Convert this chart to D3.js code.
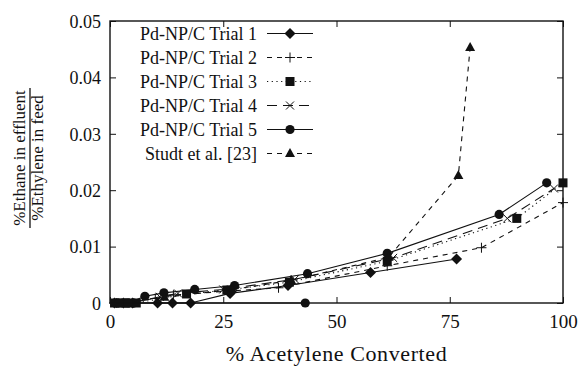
<!DOCTYPE html>
<html>
<head>
<meta charset="utf-8">
<script src="https://cdn.jsdelivr.net/npm/d3@7"></script>
<style>
  body { margin: 0; background: #fff; }
</style>
</head>
<body>
<script>
// data: [% acetylene converted, ethane/ethylene ratio]
var trial1 = [[1, 0], [3, 0], [5, 0], [10.5, 0], [13.8, 0], [17.8, 0], [26.5, 0.0017], [39.3, 0.0031], [57.5, 0.0054], [76.5, 0.0078]];
var trial2 = [[1.5, 0], [3.5, 0], [10, 0.0008], [14, 0.0014], [26, 0.0021], [37.2, 0.0027], [61.2, 0.0066], [82, 0.0098], [100, 0.0178]];
var trial3 = [[1, 0], [2.2, 0], [3.4, 0], [4.6, 0], [5.8, 0], [16.9, 0.0016], [25.8, 0.0023], [39.6, 0.0037], [61.2, 0.0074], [89.8, 0.0150], [100, 0.0213]];
var trial4 = [[2, 0], [4.5, 0], [11, 0.0011], [15, 0.0017], [25, 0.0024], [40.8, 0.0042], [62.5, 0.0080], [87.7, 0.0150], [98, 0.0203]];
var trial5 = [[43.1, 0], [2, 0], [4, 0], [7.7, 0.0012], [11.9, 0.0018], [18.7, 0.0024], [27.5, 0.0031], [43.6, 0.0052], [61.2, 0.0088], [85.9, 0.0157], [96.4, 0.0213]];
var studt = [[12, 0.0010], [27, 0.0024], [40, 0.0040], [61.5, 0.0081], [76.9, 0.0226], [79.5, 0.0453]];

var seriesNames = ["Pd-NP/C Trial 1", "Pd-NP/C Trial 2", "Pd-NP/C Trial 3", "Pd-NP/C Trial 4", "Pd-NP/C Trial 5", "Studt et al. [23]"];
var xTicks = [0, 25, 50, 75, 100];
var yTicks = [0, 0.01, 0.02, 0.03, 0.04, 0.05];

var font = "'Liberation Serif', 'Times New Roman', serif";

var width = 579, height = 367;
var margin = {top: 21, right: 16, bottom: 64, left: 110};
var w = width - margin.left - margin.right,
    h = height - margin.top - margin.bottom;

var x = d3.scaleLinear().domain([0, 100]).range([0, w]);
var y = d3.scaleLinear().domain([0, 0.05]).range([h, 0]);

var svg = d3.select("body").append("svg")
    .attr("width", width)
    .attr("height", height)
    .attr("font-family", font);
var g = svg.append("g")
    .attr("transform", "translate(" + margin.left + "," + margin.top + ")");

// series styles
var styles = [
  {data: trial1, dash: null, marker: "diamond"},
  {data: trial2, dash: "5,5", marker: "plus"},
  {data: trial3, dash: "1.2,3.5", marker: "square"},
  {data: trial4, dash: "10,6", marker: "cross"},
  {data: trial5, dash: null, marker: "circle"},
  {data: studt, dash: "5,5", marker: "triangle"}
];

function drawMarker(sel, type, cx, cy) {
  if (type === "diamond") {
    sel.append("path").attr("d", "M" + cx + "," + (cy - 5.5) + "L" + (cx + 5.5) + "," + cy + "L" + cx + "," + (cy + 5.5) + "L" + (cx - 5.5) + "," + cy + "Z").attr("fill", "#111");
  } else if (type === "square") {
    sel.append("rect").attr("x", cx - 4.5).attr("y", cy - 4.5).attr("width", 9).attr("height", 9).attr("fill", "#111");
  } else if (type === "circle") {
    sel.append("circle").attr("cx", cx).attr("cy", cy).attr("r", 4.6).attr("fill", "#111");
  } else if (type === "triangle") {
    sel.append("path").attr("d", "M" + cx + "," + (cy - 5.5) + "L" + (cx + 5) + "," + (cy + 3.5) + "L" + (cx - 5) + "," + (cy + 3.5) + "Z").attr("fill", "#111");
  } else if (type === "plus") {
    sel.append("path").attr("d", "M" + (cx - 5) + "," + cy + "H" + (cx + 5) + "M" + cx + "," + (cy - 5) + "V" + (cy + 5)).attr("stroke", "#111").attr("stroke-width", 1);
  } else if (type === "cross") {
    sel.append("path").attr("d", "M" + (cx - 4) + "," + (cy - 4) + "L" + (cx + 4) + "," + (cy + 4) + "M" + (cx - 4) + "," + (cy + 4) + "L" + (cx + 4) + "," + (cy - 4)).attr("stroke", "#111").attr("stroke-width", 1);
  }
}

var line = d3.line()
    .x(function(d) { return x(d[0]); })
    .y(function(d) { return y(d[1]); });

// lines and markers
styles.forEach(function(s) {
  g.append("path")
      .datum(s.data)
      .attr("d", line)
      .attr("fill", "none")
      .attr("stroke", "#111")
      .attr("stroke-width", 1.1)
      .attr("stroke-dasharray", s.dash);
  var mg = g.append("g");
  s.data.forEach(function(d) { drawMarker(mg, s.marker, x(d[0]), y(d[1])); });
});

// frame
g.append("rect")
    .attr("width", w).attr("height", h)
    .attr("fill", "none").attr("stroke", "#111").attr("stroke-width", 1.4);

// axes with inward ticks, mirrored on top/right
var xAxis = d3.axisBottom(x).tickValues(xTicks).tickSizeInner(-6).tickSizeOuter(0).tickPadding(12).tickFormat(d3.format("d"));
var yAxis = d3.axisLeft(y).tickValues(yTicks).tickSizeInner(-6).tickSizeOuter(0).tickPadding(9).tickFormat(function(d) { return d === 0 ? "0" : d3.format(".2f")(d); });

var gx = g.append("g").attr("transform", "translate(0," + h + ")").call(xAxis);
var gy = g.append("g").call(yAxis);
g.append("g").call(d3.axisTop(x).tickValues(xTicks).tickSizeInner(-6).tickSizeOuter(0).tickFormat(""));
g.append("g").attr("transform", "translate(" + w + ",0)").call(d3.axisRight(y).tickValues(yTicks).tickSizeInner(-6).tickSizeOuter(0).tickFormat(""));

svg.selectAll(".domain").remove();
svg.selectAll(".tick line").attr("stroke", "#111").attr("stroke-width", 1);
g.selectAll("g").attr("font-family", null);
gx.selectAll("text").style("font-size", "19px").attr("fill", "#111");
gy.selectAll("text").style("font-size", "18px").attr("fill", "#111").attr("dy", "0.35em");

// x axis label
svg.append("text")
    .attr("x", margin.left + w / 2)
    .attr("y", 361)
    .attr("text-anchor", "middle")
    .attr("fill", "#111")
    .style("font-size", "22px")
    .style("letter-spacing", "0.6px")
    .text("% Acetylene Converted");

// y axis label as a fraction
var yl = svg.append("g").attr("transform", "translate(30,158) rotate(-90)");
yl.append("text").attr("x", 0).attr("y", -5).attr("text-anchor", "middle").attr("fill", "#111").style("font-size", "17px").text("%Ethane in effluent");
yl.append("line").attr("x1", -70).attr("x2", 70).attr("y1", 0).attr("y2", 0).attr("stroke", "#111").attr("stroke-width", 1.3);
yl.append("text").attr("x", 0).attr("y", 13).attr("text-anchor", "middle").attr("fill", "#111").style("font-size", "17px").text("%Ethylene in feed");

// legend
var legend = g.append("g");
seriesNames.forEach(function(name, i) {
  var ly = 12.5 + i * 24;
  legend.append("text")
      .attr("x", 147).attr("y", ly)
      .attr("dy", "0.35em")
      .attr("text-anchor", "end")
      .attr("fill", "#111")
      .style("font-size", "18px")
      .text(name);
  legend.append("line")
      .attr("x1", 157).attr("x2", 203)
      .attr("y1", ly).attr("y2", ly)
      .attr("stroke", "#111").attr("stroke-width", 1.1)
      .attr("stroke-dasharray", styles[i].dash);
  drawMarker(legend, styles[i].marker, 180, ly);
});
</script>
</body>
</html>
